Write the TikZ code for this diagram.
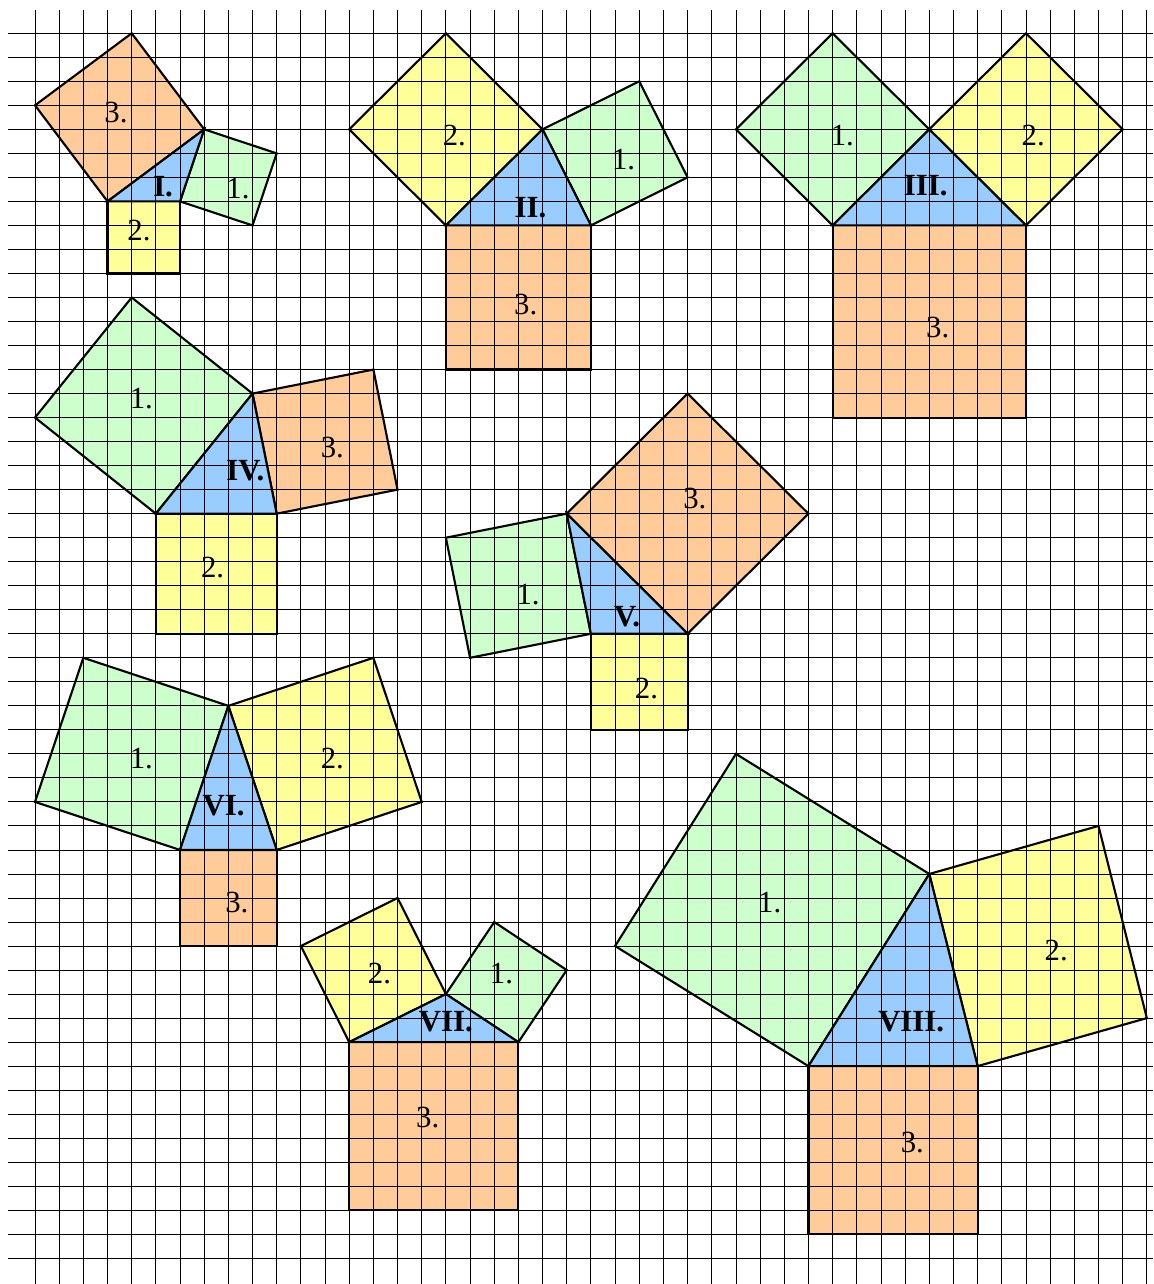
\documentclass[tikz,border=0pt]{standalone}
\usepackage{fontspec}
\setmainfont{Liberation Serif}
\definecolor{sqgreen}{HTML}{CCFFCC}
\definecolor{sqyellow}{HTML}{FFFF99}
\definecolor{sqorange}{HTML}{FFCC99}
\definecolor{triblue}{HTML}{99CCFF}
\begin{document}
\begin{tikzpicture}[x=0.4834cm, y=0.4804cm,
                    sq/.style={line width=1.2pt, line join=miter},
                    gridline/.style={line width=0.5pt, black},
                    lbl/.style={inner sep=0pt, font=\fontsize{17.5}{18}\selectfont},
                    num/.style={lbl, font=\fontsize{17.5}{18}\selectfont\bfseries}]
\useasboundingbox (-1.448,-1.070) rectangle (46.256,52.386);
\fill [white] (-1.448,-1.070) rectangle (46.256,52.386);
\filldraw [sq, fill=sqorange] (3,44) -- (7,47) -- (4,51) -- (0,48) -- cycle;
\filldraw [sq, fill=sqgreen] (6,44) -- (7,47) -- (10,46) -- (9,43) -- cycle;
\filldraw [sq, fill=sqyellow] (3,44) -- (6,44) -- (6,41) -- (3,41) -- cycle;
\filldraw [sq, fill=triblue] (3,44) -- (6,44) -- (7,47) -- cycle;
\filldraw [sq, fill=sqorange] (17,43) -- (23,43) -- (23,37) -- (17,37) -- cycle;
\filldraw [sq, fill=sqgreen] (23,43) -- (21,47) -- (25,49) -- (27,45) -- cycle;
\filldraw [sq, fill=sqyellow] (17,43) -- (21,47) -- (17,51) -- (13,47) -- cycle;
\filldraw [sq, fill=triblue] (17,43) -- (23,43) -- (21,47) -- cycle;
\filldraw [sq, fill=sqorange] (33,43) -- (41,43) -- (41,35) -- (33,35) -- cycle;
\filldraw [sq, fill=sqgreen] (33,43) -- (37,47) -- (33,51) -- (29,47) -- cycle;
\filldraw [sq, fill=sqyellow] (41,43) -- (37,47) -- (41,51) -- (45,47) -- cycle;
\filldraw [sq, fill=triblue] (33,43) -- (41,43) -- (37,47) -- cycle;
\filldraw [sq, fill=sqyellow] (5,31) -- (10,31) -- (10,26) -- (5,26) -- cycle;
\filldraw [sq, fill=sqgreen] (5,31) -- (9,36) -- (4,40) -- (0,35) -- cycle;
\filldraw [sq, fill=sqorange] (9,36) -- (10,31) -- (15,32) -- (14,37) -- cycle;
\filldraw [sq, fill=triblue] (5,31) -- (10,31) -- (9,36) -- cycle;
\filldraw [sq, fill=sqyellow] (23,26) -- (27,26) -- (27,22) -- (23,22) -- cycle;
\filldraw [sq, fill=sqorange] (22,31) -- (27,26) -- (32,31) -- (27,36) -- cycle;
\filldraw [sq, fill=sqgreen] (23,26) -- (22,31) -- (17,30) -- (18,25) -- cycle;
\filldraw [sq, fill=triblue] (23,26) -- (27,26) -- (22,31) -- cycle;
\filldraw [sq, fill=sqorange] (6,17) -- (10,17) -- (10,13) -- (6,13) -- cycle;
\filldraw [sq, fill=sqgreen] (6,17) -- (8,23) -- (2,25) -- (0,19) -- cycle;
\filldraw [sq, fill=sqyellow] (8,23) -- (10,17) -- (16,19) -- (14,25) -- cycle;
\filldraw [sq, fill=triblue] (6,17) -- (10,17) -- (8,23) -- cycle;
\filldraw [sq, fill=sqorange] (13,9) -- (20,9) -- (20,2) -- (13,2) -- cycle;
\filldraw [sq, fill=sqyellow] (13,9) -- (17,11) -- (15,15) -- (11,13) -- cycle;
\filldraw [sq, fill=sqgreen] (17,11) -- (20,9) -- (22,12) -- (19,14) -- cycle;
\filldraw [sq, fill=triblue] (13,9) -- (20,9) -- (17,11) -- cycle;
\filldraw [sq, fill=sqorange] (32,8) -- (39,8) -- (39,1) -- (32,1) -- cycle;
\filldraw [sq, fill=sqgreen] (32,8) -- (37,16) -- (29,21) -- (24,13) -- cycle;
\filldraw [sq, fill=sqyellow] (37,16) -- (39,8) -- (46,10) -- (44,18) -- cycle;
\filldraw [sq, fill=triblue] (32,8) -- (39,8) -- (37,16) -- cycle;
\foreach \j in {0,...,51}
  \draw [gridline] (-1.1,\j) -- (46.256,\j);
\foreach \i in {0,...,46}
  \draw [gridline] (\i,-1.070) -- (\i,51.97);
\node [lbl] (I3) at (3.35,47.7) {3.};
\node [num] (It) at (5.3,44.6) {I.};
\node [lbl] (I1) at (8.4,44.55) {1.};
\node [lbl] (I2) at (4.3,42.8) {2.};
\node [lbl] (II2) at (17.35,46.75) {2.};
\node [lbl] (II1) at (24.35,45.75) {1.};
\node [num] (IIt) at (20.5,43.75) {II.};
\node [lbl] (II3) at (20.3,39.7) {3.};
\node [lbl] (III1) at (33.4,46.75) {1.};
\node [lbl] (III2) at (41.3,46.75) {2.};
\node [num] (IIIt) at (36.85,44.65) {III.};
\node [lbl] (III3) at (37.35,38.75) {3.};
\node [lbl] (IV1) at (4.4,35.8) {1.};
\node [lbl] (IV3) at (12.3,33.75) {3.};
\node [num] (IVt) at (8.7,32.8) {IV.};
\node [lbl] (IV2) at (7.35,28.75) {2.};
\node [lbl] (V3) at (27.3,31.65) {3.};
\node [lbl] (V1) at (20.4,27.65) {1.};
\node [num] (Vt) at (24.5,26.7) {V.};
\node [lbl] (V2) at (25.3,23.7) {2.};
\node [lbl] (VI1) at (4.4,20.8) {1.};
\node [lbl] (VI2) at (12.3,20.8) {2.};
\node [num] (VIt) at (7.8,18.85) {VI.};
\node [lbl] (VI3) at (8.35,14.8) {3.};
\node [lbl] (VII2) at (14.25,11.85) {2.};
\node [lbl] (VII1) at (19.3,11.85) {1.};
\node [num] (VIIt) at (17,9.85) {VII.};
\node [lbl] (VII3) at (16.25,5.85) {3.};
\node [lbl] (VIII1) at (30.4,14.8) {1.};
\node [lbl] (VIII2) at (42.25,12.8) {2.};
\node [num] (VIIIt) at (36.25,9.85) {VIII.};
\node [lbl] (VIII3) at (36.3,4.8) {3.};
\end{tikzpicture}
\end{document}
